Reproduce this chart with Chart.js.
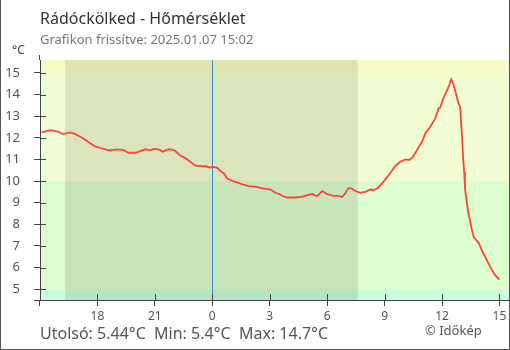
<!DOCTYPE html>
<html>
<head>
<meta charset="utf-8">
<script src="https://cdn.jsdelivr.net/npm/chart.js@4.4.1/dist/chart.umd.min.js"></script>
<style>
  body { margin: 0; background: #fff; }
  #wrap { position: relative; width: 510px; height: 350px; font-family: 'Noto Sans', sans-serif; }
  #wrap canvas { position: absolute; left: 0; top: 0; }
  .txt { position: absolute; white-space: pre; line-height: 1; }
  #title { left: 40px; top: 10px; font-size: 16px; color: #333; }
  #sub { left: 40px; top: 33px; font-size: 13px; color: #777; }
  #unit { left: 12px; top: 44px; font-size: 12px; color: #444; }
  #stats { left: 40px; top: 325px; font-size: 16px; color: #555; }
  #copy { left: 425px; top: 324px; font-size: 13px; color: #555; }
  #frame { position: absolute; left: 0; top: 0; width: 510px; height: 350px; box-sizing: border-box; border: 1px solid #555; border-top: none; pointer-events: none; }
</style>
</head>
<body>
<div id="wrap">
  <canvas id="chart" width="510" height="350"></canvas>
  <div class="txt" id="title">Rádóckölked - Hőmérséklet</div>
  <div class="txt" id="sub">Grafikon frissítve: 2025.01.07 15:02</div>
  <div class="txt" id="unit">°C</div>
  <div class="txt" id="stats">Utolsó: 5.44°C  Min: 5.4°C  Max: 14.7°C</div>
  <div class="txt" id="copy">© Időkép</div>
  <div id="frame"></div>
</div>
<script>
// hours relative to midnight (2025.01.07 00:00)
const hours = [-8.92, -8.45, -8.02, -7.81, -7.41, -7.15, -6.89, -6.62, -6.36, -6.10,
  -5.84, -5.41, -4.98, -4.63, -4.37, -4.02, -3.76, -3.50, -3.23, -3.06,
  -2.80, -2.61, -2.26, -2.00, -1.83, -1.65, -1.39, -1.22, -1.04, -0.87,
  -0.61, -0.35, -0.14, 0.08, 0.26, 0.43, 0.61, 0.78, 1.04, 1.30,
  1.56, 1.91, 2.26, 2.61, 3.04, 3.30, 3.51, 3.65, 3.91, 4.35,
  4.69, 4.96, 5.22, 5.48, 5.74, 6.00, 6.34, 6.60, 6.78, 6.95,
  7.09, 7.27, 7.48, 7.74, 8.00, 8.26, 8.43, 8.61, 8.87, 9.04,
  9.30, 9.56, 9.82, 10.08, 10.29, 10.46, 10.69, 10.95, 11.13, 11.39,
  11.65, 11.82, 11.91, 12.08, 12.26, 12.38, 12.48, 12.60, 12.74, 12.86,
  12.95, 13.00, 13.06, 13.11, 13.16, 13.20, 13.27, 13.35, 13.44, 13.53,
  13.65, 13.79, 13.94, 14.08, 14.26, 14.43, 14.61, 14.78, 15.00]

const temps = [12.25, 12.36, 12.28, 12.17, 12.25, 12.17, 12.05, 11.9, 11.74, 11.59,
  11.53, 11.42, 11.47, 11.43, 11.31, 11.31, 11.39, 11.47, 11.42, 11.49,
  11.47, 11.36, 11.48, 11.43, 11.31, 11.17, 11.05, 10.94, 10.82, 10.71,
  10.69, 10.69, 10.63, 10.66, 10.61, 10.46, 10.35, 10.12, 10.01, 9.94,
  9.85, 9.77, 9.74, 9.66, 9.61, 9.46, 9.4, 9.32, 9.24, 9.24,
  9.27, 9.35, 9.4, 9.3, 9.54, 9.4, 9.32, 9.32, 9.27, 9.43,
  9.66, 9.66, 9.54, 9.46, 9.5, 9.61, 9.58, 9.66, 9.89, 10.08,
  10.37, 10.7, 10.89, 11.0, 10.97, 11.1, 11.43, 11.82, 12.21, 12.51,
  12.9, 13.36, 13.41, 13.85, 14.2, 14.44, 14.7, 14.48, 14.0, 13.6,
  13.44, 12.67, 11.82, 10.97, 10.43, 9.66, 9.2, 8.66, 8.27, 7.88,
  7.42, 7.27, 7.11, 6.8, 6.49, 6.19, 5.88, 5.65, 5.44]

const xTicks = [-6, -3, 0, 3, 6, 9, 12, 15]
const xTickLabels = ['18', '21', '0', '3', '6', '9', '12', '15']
const yTicks = [5, 6, 7, 8, 9, 10, 11, 12, 13, 14, 15]

const bandLimits = [15, 10, 5]
const bandColors = ['#f6fdc4', '#f1fed3', '#ddfed1', '#c9fddb']
const nightStart = -7.7
const nightEnd = 7.6

const axisColor = '#444'

const backdrop = {
  id: 'backdrop',
  beforeDraw(chart) {
    const { ctx, chartArea: a, scales: { x, y } } = chart
    ctx.save()
    const edges = [a.top, ...bandLimits.map(v => y.getPixelForValue(v)), a.bottom]
    bandColors.forEach((c, i) => {
      ctx.fillStyle = c
      ctx.fillRect(a.left, edges[i], a.right - a.left, edges[i + 1] - edges[i])
    })
    const n0 = x.getPixelForValue(nightStart)
    const n1 = x.getPixelForValue(nightEnd)
    ctx.fillStyle = 'rgba(40, 30, 0, 0.11)'
    ctx.fillRect(n0, a.top, n1 - n0, a.bottom - a.top)
    ctx.restore()
  },
  beforeDatasetsDraw(chart) {
    const { ctx, chartArea: a, scales: { x } } = chart
    const mx = Math.round(x.getPixelForValue(0)) + 0.5
    ctx.save()
    ctx.strokeStyle = '#3a8fc8'
    ctx.lineWidth = 1
    ctx.beginPath()
    ctx.moveTo(mx, a.top)
    ctx.lineTo(mx, a.bottom)
    ctx.stroke()
    ctx.restore()
  },
  afterDraw(chart) {
    // inner halves of the tick marks and axis overhangs
    const { ctx, chartArea: a, scales: { x, y } } = chart
    ctx.save()
    ctx.strokeStyle = axisColor
    ctx.lineWidth = 1
    ctx.beginPath()
    xTicks.forEach(v => {
      const px = Math.round(x.getPixelForValue(v)) + 0.5
      ctx.moveTo(px, a.bottom)
      ctx.lineTo(px, a.bottom - 6)
    })
    yTicks.forEach(v => {
      const py = Math.round(y.getPixelForValue(v)) + 0.5
      ctx.moveTo(a.left, py)
      ctx.lineTo(a.left + 6, py)
    })
    const ax = Math.round(a.left) - 0.5
    const ay = Math.round(a.bottom) + 0.5
    ctx.moveTo(ax, a.top - 5)
    ctx.lineTo(ax, a.top)
    ctx.moveTo(ax, a.bottom)
    ctx.lineTo(ax, a.bottom + 6)
    ctx.moveTo(a.left - 6, ay)
    ctx.lineTo(a.left, ay)
    ctx.stroke()
    ctx.restore()
  }
}

new Chart(document.getElementById('chart'), {
  type: 'line',
  data: {
    datasets: [{
      label: 'Hőmérséklet',
      data: hours.map((h, i) => ({ x: h, y: temps[i] })),
      borderColor: '#ff4438',
      borderWidth: 1.8,
      pointRadius: 0,
      tension: 0,
      fill: false
    }]
  },
  plugins: [backdrop],
  options: {
    responsive: false,
    animation: false,
    events: [],
    layout: { padding: { top: 60, right: 1, left: 0, bottom: 0 } },
    plugins: {
      legend: { display: false },
      tooltip: { enabled: false }
    },
    scales: {
      x: {
        type: 'linear',
        min: -9,
        max: 15.5,
        afterFit: (scale) => { scale.height = 50 },
        afterBuildTicks: (scale) => { scale.ticks = xTicks.map(v => ({ value: v })) },
        grid: { drawOnChartArea: false, color: axisColor, tickLength: 6 },
        border: { color: axisColor, width: 1 },
        ticks: {
          color: '#555',
          padding: 3,
          maxRotation: 0,
          autoSkip: false,
          font: { family: 'Noto Sans', size: 12 },
          callback: (value) => xTickLabels[xTicks.indexOf(value)]
        }
      },
      y: {
        min: 4.5,
        max: 15.6,
        afterFit: (scale) => { scale.width = 40 },
        afterBuildTicks: (scale) => { scale.ticks = yTicks.map(v => ({ value: v })) },
        grid: { drawOnChartArea: false, color: axisColor, tickLength: 6 },
        border: { color: axisColor, width: 1 },
        ticks: {
          color: '#555',
          padding: 14,
          font: { family: 'Noto Sans', size: 13 },
          callback: (value) => String(value)
        }
      }
    }
  }
})
</script>
</body>
</html>
